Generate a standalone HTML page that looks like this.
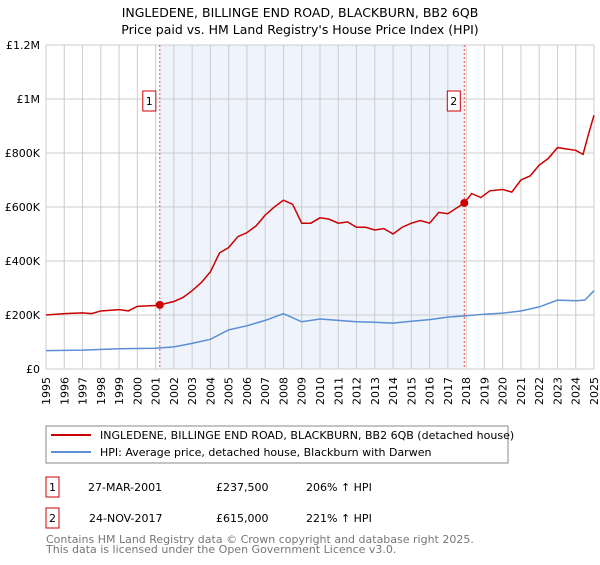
<!DOCTYPE html>
<html><head><meta charset="utf-8"><style>
body{margin:0;background:#fff;font-family:"Liberation Sans","DejaVu Sans",sans-serif;}
svg text{font-family:"DejaVu Sans","Liberation Sans",sans-serif;}
</style></head><body>
<svg id="c" width="600" height="560">
<text x="300" y="17" text-anchor="middle" font-size="12.5">INGLEDENE, BILLINGE END ROAD, BLACKBURN, BB2 6QB</text>
<text x="300" y="34" text-anchor="middle" font-size="12.5">Price paid vs. HM Land Registry's House Price Index (HPI)</text>
<g id="plot"></g>
<g>
<rect x="46" y="426" width="462" height="37" fill="#fff" stroke="#888"/>
<line x1="51" y1="435" x2="91" y2="435" stroke="#cc0000" stroke-width="2"/>
<text x="100" y="439" font-size="11">INGLEDENE, BILLINGE END ROAD, BLACKBURN, BB2 6QB (detached house)</text>
<line x1="51" y1="452" x2="91" y2="452" stroke="#5b8fd4" stroke-width="2"/>
<text x="100" y="456" font-size="11">HPI: Average price, detached house, Blackburn with Darwen</text>
</g>
<g font-size="11">
<rect x="46" y="477" width="13" height="20" fill="#fff" stroke="#cc0000"/>
<text x="52.5" y="491" text-anchor="middle">1</text>
<text x="88" y="491">27-MAR-2001</text><text x="216" y="491">£237,500</text><text x="306" y="491">206% ↑ HPI</text>
<rect x="46" y="508" width="13" height="20" fill="#fff" stroke="#cc0000"/>
<text x="52.5" y="522" text-anchor="middle">2</text>
<text x="89" y="522">24-NOV-2017</text><text x="216" y="522">£615,000</text><text x="306" y="522">221% ↑ HPI</text>
</g>
<text x="46" y="543" font-size="11" fill="#777">Contains HM Land Registry data © Crown copyright and database right 2025.</text>
<text x="46" y="553" font-size="11" fill="#777">This data is licensed under the Open Government Licence v3.0.</text>
</svg>
<script>
const redYears=[1995,1996,1997,1997.5,1998,1999,1999.5,2000,2001,2001.23,2002,2002.5,2003,2003.5,2004,2004.5,2005,2005.5,2006,2006.5,2007,2007.5,2008,2008.5,2009,2009.5,2010,2010.5,2011,2011.5,2012,2012.5,2013,2013.5,2014,2014.5,2015,2015.5,2016,2016.5,2017,2017.9,2018.3,2018.8,2019.3,2020,2020.5,2021,2021.5,2022,2022.5,2023,2023.5,2024,2024.4,2024.7,2025];
const redValues=[200,205,208,205,215,220,215,232,235,237.5,250,265,290,320,360,430,450,490,505,530,570,600,625,610,540,540,560,555,540,545,525,525,515,520,500,525,540,550,540,580,575,615,650,635,660,665,655,700,715,755,780,820,815,810,795,870,940];
const hpiYears=[1995,1997,1999,2001,2002,2003,2004,2005,2006,2007,2008,2009,2010,2011,2012,2013,2014,2015,2016,2017,2018,2019,2020,2021,2022,2023,2024,2024.5,2025];
const hpiValues=[68,70,75,77,82,95,110,145,160,180,205,175,185,180,175,173,170,177,183,192,197,203,207,215,230,255,253,255,290];
const saleYears=[2001.23,2017.9];
const saleValues=[237.5,615];
const saleLabels=["1","2"];
const yTicks=[0,200,400,600,800,1000,1200];
const yTickLabels=["£0","£200K","£400K","£600K","£800K","£1M","£1.2M"];
const xTicks=[];for(let y=1995;y<=2025;y++)xTicks.push(y);
const L=46,R=594,T=45,B=369;
const x=v=>L+(v-1995)/30*(R-L);
const y=v=>B-v/1200*(B-T);
const g=document.getElementById('plot');const NS="http://www.w3.org/2000/svg";
function mk(t,a){const e=document.createElementNS(NS,t);for(const k in a)e.setAttribute(k,a[k]);g.appendChild(e);return e;}
let e=mk('rect',{x:x(saleYears[0]),y:T,width:x(saleYears[1])-x(saleYears[0]),height:B-T,fill:'#eef3fc'});


xTicks.forEach(t=>{let l=mk('line',{x1:x(t),x2:x(t),y1:T,y2:B,stroke:'#cccccc'});


let tx=mk('text',{transform:`translate(${x(t)+4},${B+36}) rotate(-90)`,'font-size':'11'});tx.textContent=t;

});
yTicks.forEach((t,i)=>{let l=mk('line',{x1:L,x2:R,y1:y(t),y2:y(t),stroke:'#cccccc'});


let tx=mk('text',{x:L-6,y:y(t)+4,'text-anchor':'end','font-size':'11'});tx.textContent=yTickLabels[i];

});
saleYears.forEach((s,i)=>{let l=mk('line',{x1:x(s),x2:x(s),y1:T,y2:B,stroke:'#e05050','stroke-dasharray':'2,2'});


let r=mk('rect',{x:x(s)-17,y:91,width:13,height:20,fill:'#fff',stroke:'#cc0000'});


let tx=mk('text',{x:x(s)-10.5,y:105,'text-anchor':'middle','font-size':'11'});tx.textContent=saleLabels[i];

});
let p1=mk('polyline',{points:hpiYears.map((v,i)=>x(v)+','+y(hpiValues[i])).join(' '),fill:'none',stroke:'#5b8fd4','stroke-width':1.5});


let p2=mk('polyline',{points:redYears.map((v,i)=>x(v)+','+y(redValues[i])).join(' '),fill:'none',stroke:'#cc0000','stroke-width':1.5});


saleYears.forEach((s,i)=>{let c=mk('circle',{cx:x(s),cy:y(saleValues[i]),r:4,fill:'#cc0000'});

});
</script>
</body></html>
